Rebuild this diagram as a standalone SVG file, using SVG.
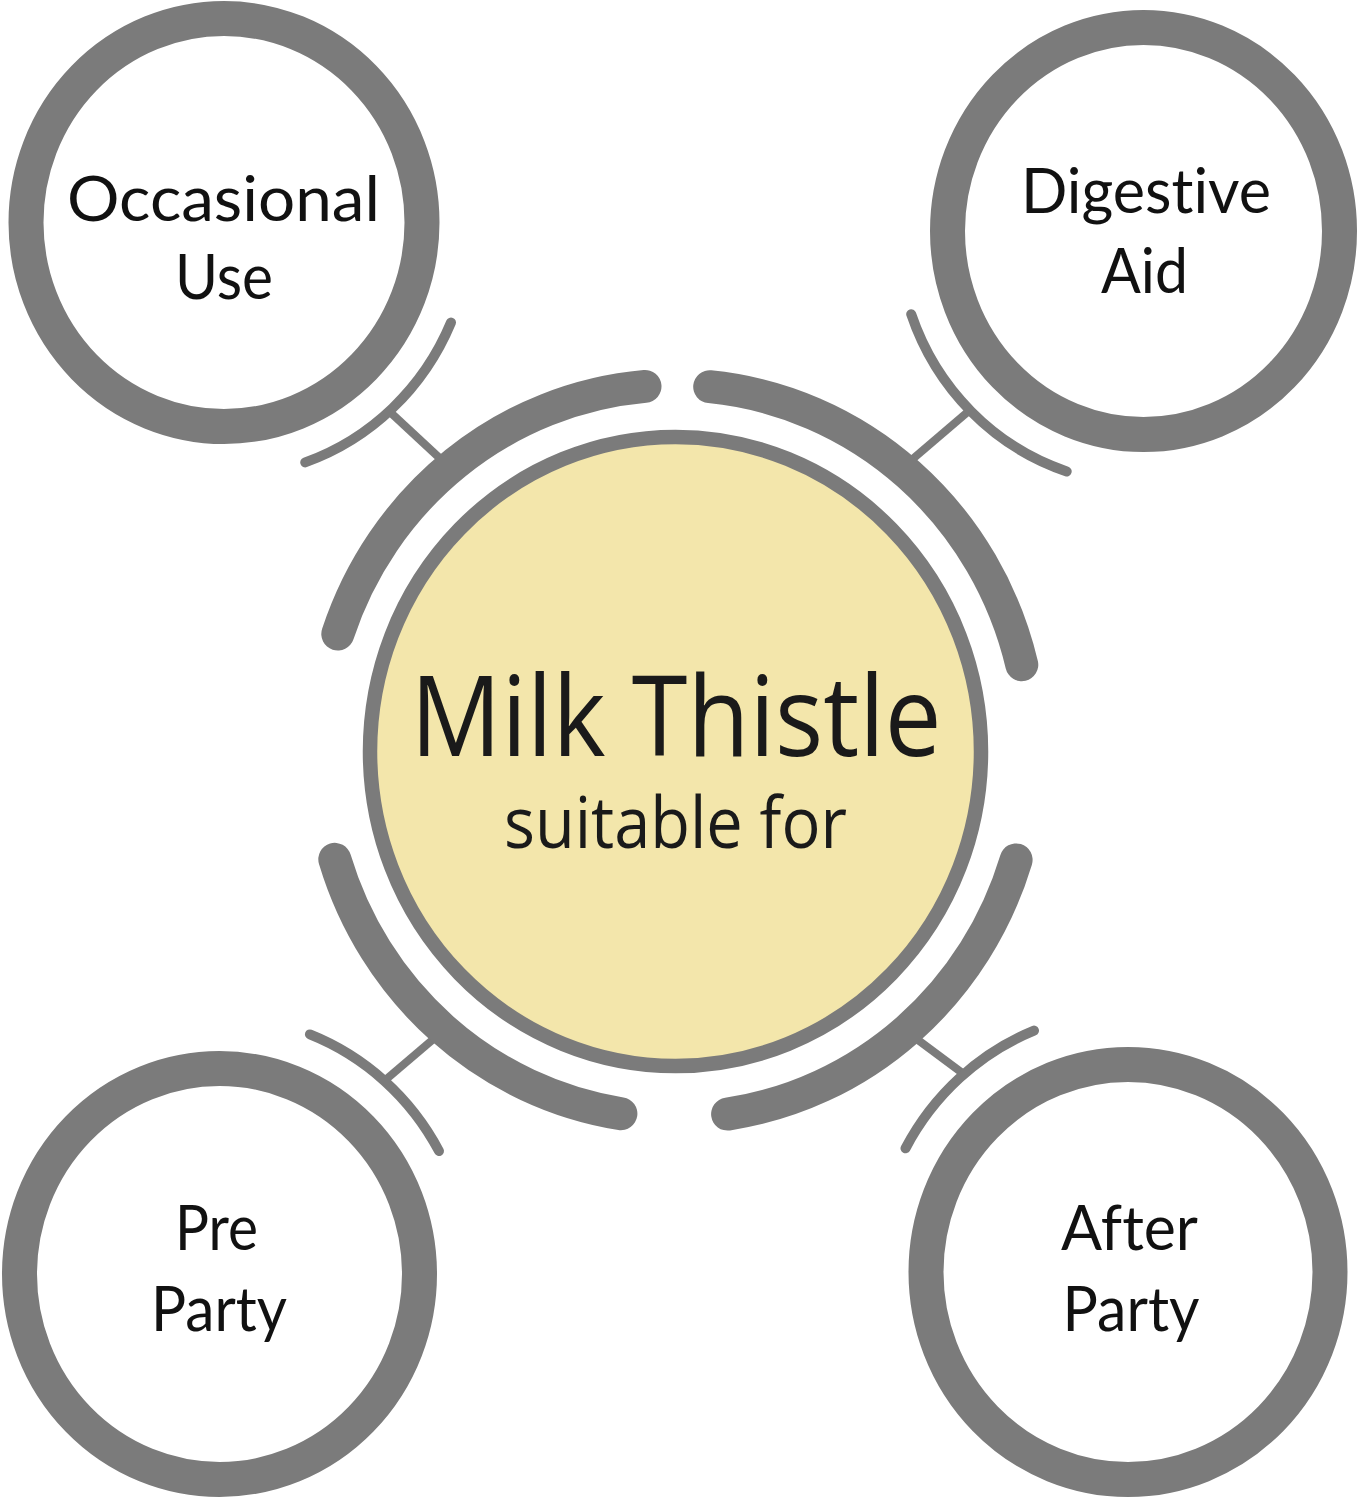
<svg xmlns="http://www.w3.org/2000/svg" width="1360" height="1500" viewBox="0 0 1360 1500">
<style>
.ring{fill:#ffffff;stroke:#7b7b7b;stroke-width:35}
.hub{fill:#f3e6ab;stroke:#7b7b7b;stroke-width:14.5}
.big{fill:none;stroke:#7b7b7b;stroke-width:33;stroke-linecap:round}
.thin{fill:none;stroke:#7b7b7b;stroke-width:10;stroke-linecap:round}
.stick{fill:none;stroke:#7b7b7b;stroke-width:8}
.lbl{font-family:Lato,"Noto Sans","Liberation Sans",sans-serif;font-weight:400;font-size:62px;fill:#111111;text-anchor:middle;font-variant-ligatures:none}
.title{font-family:"Open Sans","Noto Sans","Liberation Sans",sans-serif;fill:#1a1a1a;text-anchor:middle}
</style>
<rect width="1360" height="1500" fill="#ffffff"/>
<g id="connectors">
  <path class="stick" d="M390 412 L446 464"/>
  <path class="stick" d="M970 410 L908 463"/>
  <path class="stick" d="M383 1082 L437 1036"/>
  <path class="stick" d="M961 1072 L912.6 1036"/>
  <path class="thin" d="M451 322.5 A247 254 0 0 1 305.2 462.4"/>
  <path class="thin" d="M1066.7 471.4 A246 253 0 0 1 911.2 314.2"/>
  <path class="thin" d="M309.9 1034.4 A250 257 0 0 1 439 1151"/>
  <path class="thin" d="M905.5 1148.3 A253 260 0 0 1 1034 1030.6"/>
  <path class="big" d="M337.8 634 A356.5 366.5 0 0 1 645 386.4"/>
  <path class="big" d="M709.7 386.7 A356.5 366.5 0 0 1 1021.8 664.7"/>
  <path class="big" d="M1016.1 859.9 A356.5 366.5 0 0 1 727.6 1114.1"/>
  <path class="big" d="M620.9 1113.7 A356.5 366.5 0 0 1 334.8 859.3"/>
</g>
<g id="hub">
  <ellipse class="hub" cx="675.5" cy="751.5" rx="305.5" ry="314.5"/>
  <text class="title"><tspan x="676" y="756" font-size="112" textLength="531" lengthAdjust="spacingAndGlyphs">Milk Thistle</tspan><tspan x="675.5" y="848" font-size="71" textLength="343" lengthAdjust="spacingAndGlyphs">suitable for</tspan></text>
</g>
<g id="occasional-use">
  <ellipse class="ring" cx="224" cy="222.5" rx="198" ry="204"/>
  <text class="lbl" x="223.5" y="221" textLength="313" lengthAdjust="spacingAndGlyphs">Occasional</text>
  <text class="lbl" x="224" y="299" textLength="98" lengthAdjust="spacingAndGlyphs">Use</text>
</g>
<g id="digestive-aid">
  <ellipse class="ring" cx="1143.5" cy="231" rx="196" ry="203.5"/>
  <text class="lbl" x="1146" y="213" textLength="250" lengthAdjust="spacingAndGlyphs">Digestive</text>
  <text class="lbl" x="1144.5" y="293" textLength="87" lengthAdjust="spacingAndGlyphs">Aid</text>
</g>
<g id="pre-party">
  <ellipse class="ring" cx="219.5" cy="1274" rx="200" ry="205.5"/>
  <text class="lbl" x="216.5" y="1250" textLength="83" lengthAdjust="spacingAndGlyphs">Pre</text>
  <text class="lbl" x="219" y="1331" textLength="136" lengthAdjust="spacingAndGlyphs">Party</text>
</g>
<g id="after-party">
  <ellipse class="ring" cx="1128" cy="1272" rx="202" ry="207.5"/>
  <text class="lbl" x="1129.5" y="1250" textLength="137" lengthAdjust="spacingAndGlyphs">After</text>
  <text class="lbl" x="1131" y="1331" textLength="137" lengthAdjust="spacingAndGlyphs">Party</text>
</g>
</svg>
